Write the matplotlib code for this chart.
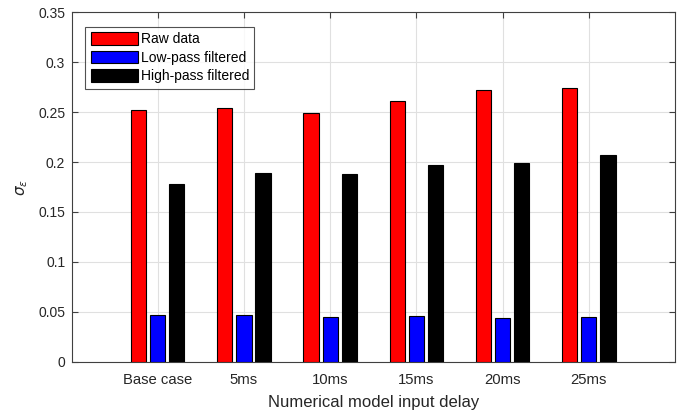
import matplotlib
matplotlib.use("Agg")
import matplotlib.pyplot as plt
import numpy as np

categories = ["Base case", "5ms", "10ms", "15ms", "20ms", "25ms"]
raw = [0.2522, 0.2539, 0.2492, 0.2612, 0.2719, 0.2742]
low_pass = [0.0468, 0.0465, 0.0451, 0.0455, 0.0435, 0.0451]
high_pass = [0.1784, 0.1891, 0.1881, 0.1968, 0.1991, 0.2074]
series_names = ["Raw data", "Low-pass filtered", "High-pass filtered"]
colors = ["#ff0000", "#0000ff", "#000000"]

plt.rcParams['font.family'] = ['Liberation Sans', 'DejaVu Sans']

fig = plt.figure(figsize=(6.83, 4.15), dpi=100)
ax = fig.add_axes([71.5/683, 1 - 361.7/415, (675-71.5)/683, (361.7-12.3)/415])

x = np.arange(1, len(categories) + 1)
offsets = [-0.222, 0.0, 0.222]
width = 0.176
for data, off, c, name in zip([raw, low_pass, high_pass], offsets, colors, series_names):
    ax.bar(x + off, data, width, color=c, edgecolor="black", linewidth=0.8, label=name, zorder=3)

ax.set_xlim(0, 7)
ax.set_ylim(0, 0.35)
ax.set_xticks(x)
ax.set_xticklabels(categories)
ax.set_yticks(np.arange(0, 0.351, 0.05))
ax.set_yticklabels(["0", "0.05", "0.1", "0.15", "0.2", "0.25", "0.3", "0.35"])
ax.grid(True, color="#e0e0e0", linewidth=0.8, zorder=0)
ax.set_axisbelow(True)
ax.tick_params(direction="in", top=True, right=True, length=4, width=0.8,
               colors="#404040", labelcolor="#262626", labelsize=10)
ax.tick_params(axis="x", labelsize=10.7, pad=8)
ax.tick_params(axis="y", pad=4.5)
for s in ax.spines.values():
    s.set_color("#404040")
    s.set_linewidth(0.8)

ax.set_xlabel("Numerical model input delay", fontsize=12, color="#262626", labelpad=6)
ax.set_ylabel(r"$\sigma_{\epsilon}$", fontsize=11, color="#262626", labelpad=6)

leg = ax.legend(loc="upper left", fontsize=10, frameon=True, fancybox=False,
                handlelength=3.4, handleheight=1.0, handletextpad=0.2,
                labelspacing=0.32, borderpad=0.4, borderaxespad=0)
leg.set_bbox_to_anchor((85/683, 1 - 26.7/415), transform=fig.transFigure)
leg.get_frame().set_edgecolor("#262626")
leg.get_frame().set_linewidth(0.8)

fig.savefig("out.png", dpi=100)
